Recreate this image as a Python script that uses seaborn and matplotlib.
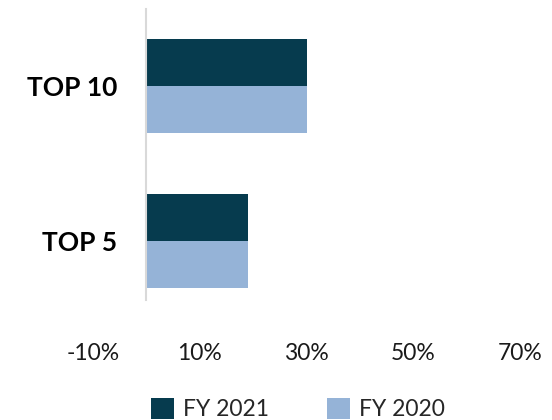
import pandas as pd
import matplotlib.pyplot as plt
import seaborn as sns

categories = ["TOP 10", "TOP 5"]
fy2021 = [30, 19]
fy2020 = [30, 19]
series = ["FY 2021", "FY 2020"]
xticks = [-10, 10, 30, 50, 70]

df = pd.DataFrame({
    "cat": categories * 2,
    "val": fy2021 + fy2020,
    "year": [series[0]] * len(categories) + [series[1]] * len(categories),
})

sns.set_style("white")
plt.rcParams["font.family"] = ["Lato", "DejaVu Sans"]

fig = plt.figure(figsize=(5.52, 4.2), dpi=100)
ax = fig.add_axes([93 / 552, 1 - 300 / 420, (520 - 93) / 552, (300 - 9) / 420])

sns.barplot(data=df, x="val", y="cat", hue="year", hue_order=series,
            palette=["#063B4E", "#95B3D7"], orient="h", width=0.61,
            saturation=1, linewidth=0, ax=ax, legend=True)

# spine position first: moving it resets the tick settings
for s in ["top", "right", "bottom"]:
    ax.spines[s].set_visible(False)
ax.spines["left"].set_position(("data", 0))
ax.spines["left"].set_color("#d9d9d9")
ax.spines["left"].set_linewidth(1.5)

ax.set_xlim(-10, 70)
ax.set_ylim(1.381, -0.497)
ax.set_xticks(xticks)
ax.set_xticklabels([f"{t}%" for t in xticks], fontsize=16.5, color="#1a1a1a")
ax.set_yticks(range(len(categories)))
ax.set_yticklabels(categories, fontsize=19, fontweight="bold", color="black")
ax.tick_params(axis="x", length=0, pad=31)
ax.tick_params(axis="y", length=0, pad=21)
ax.set_xlabel("")
ax.set_ylabel("")

handles, labels = ax.get_legend_handles_labels()
ax.get_legend().remove()
fig.legend(handles, labels, loc="center", bbox_to_anchor=(0.54, 0.026), ncol=2,
           frameon=False, fontsize=16.5, handlelength=1.0, handleheight=1.0,
           handletextpad=0.4, columnspacing=2.5)

fig.savefig("out.png", dpi=100)
